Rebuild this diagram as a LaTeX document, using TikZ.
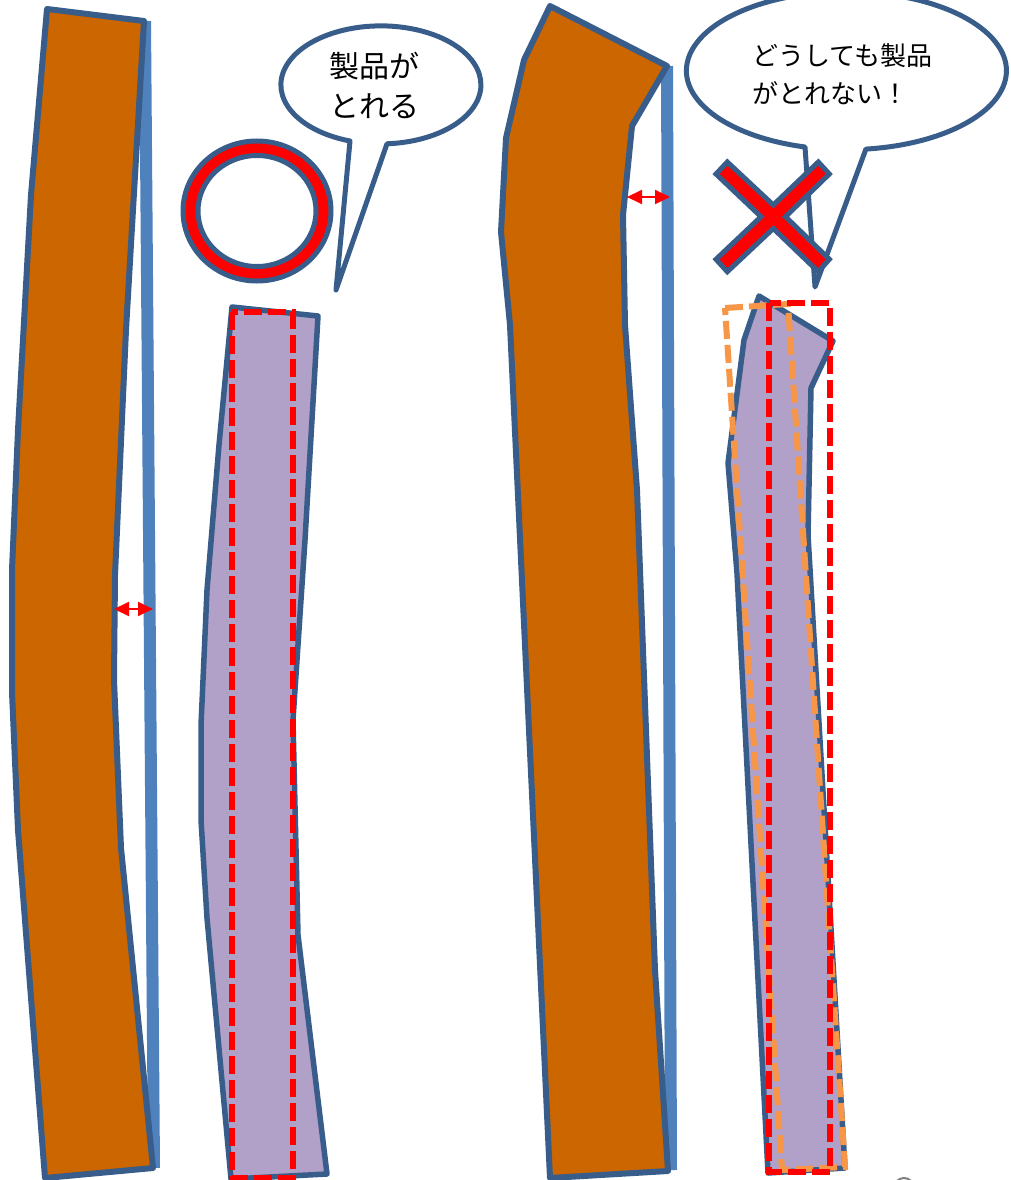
\documentclass[tikz,border=0pt]{standalone}
\usepackage{fontspec}
\usepackage{xcolor}
\usetikzlibrary{arrows.meta}
\newfontfamily\cjk{Noto Sans CJK JP}
\definecolor{edgeblue}{RGB}{56,93,138}
\definecolor{lineblue}{RGB}{79,129,189}
\definecolor{bodybrown}{RGB}{204,102,0}
\definecolor{partpurple}{RGB}{177,160,199}
\definecolor{cutorange}{RGB}{247,150,70}
\definecolor{markred}{RGB}{255,0,0}

\begin{document}
\begin{tikzpicture}[
    x=1pt, y=-1pt,
    body/.style={draw=edgeblue, fill=bodybrown, line width=6pt, line join=round},
    part/.style={draw=edgeblue, fill=partpurple, line width=5.5pt, line join=round},
    straight/.style={draw=lineblue, line width=12pt},
    cutred/.style={draw=markred, line width=6pt, dash pattern=on 18pt off 6pt},
    cutor/.style={draw=cutorange, line width=6pt, dash pattern=on 18pt off 6pt},
    redmark/.style={draw=edgeblue, fill=markred, line width=5pt, line join=miter},
    bubble/.style={draw=edgeblue, fill=white, line width=5pt, line join=round},
    gap/.style={{Triangle[length=15pt,width=14pt]}-{Triangle[length=15pt,width=14pt]}, draw=markred, fill=markred, line width=2pt},
    say/.style={align=left, inner sep=0pt, anchor=north west, text=black}
]
\useasboundingbox (0,0) rectangle (1010,1180);

% Left: straight line and bent bar
\draw[straight] (145,21) -- (154,1168);
\draw[body] (47,9) -- (144,21) -- (126,330) -- (115,575) -- (114,680) -- (121,848) -- (153,1168) -- (45,1178)
    -- (18,830) -- (12,692) -- (12,570) -- (18,430) -- (31,195) -- cycle;

% Left: gap
\coordinate (gapla) at (114,609);
\coordinate (gaplb) at (153,609);
\draw[gap] (gapla) -- (gaplb);

% Left: ring
\draw[redmark, even odd rule] (257,211) ellipse [x radius=74, y radius=70]
    (257,211) ellipse [x radius=59, y radius=55.5];

% Left: bubble
\draw[bubble] (350,141) arc[start angle=108, end angle=446.5, x radius=100, y radius=59] -- (336,290) -- cycle;
\node[say, font=\cjk\fontsize{30}{40}\selectfont] (sayok) at (329,52) {製品が\\とれる};

% Left: part
\draw[part] (232,307) -- (318,316) -- (305,540) -- (293,720) -- (298,935) -- (327,1174) -- (231,1179)
    -- (207,918) -- (201,820) -- (201,725) -- (207,590) -- (219,445) -- cycle;
\draw[cutred] (232,312) rectangle (293,1178);

% Right: straight line and bent bar
\draw[straight] (667,66) -- (671,1170);
\draw[body] (550,6) -- (667,66) -- (632,126) -- (623,215) -- (625,325) -- (637,490) -- (655,970) -- (668,1171)
    -- (550,1178) -- (510,325) -- (501,232) -- (506,138) -- (524,60) -- cycle;

% Right: gap
\coordinate (gapra) at (627,197);
\coordinate (gaprb) at (670,197);
\draw[gap] (gapra) -- (gaprb);

% Right: bubble
\draw[bubble] (805,147) arc[start angle=105, end angle=443, x radius=160, y radius=79] -- (815,287) -- cycle;
\node[say, font=\cjk\fontsize{26}{38}\selectfont] (sayng) at (752,43) {どうしても製品\\がとれない！};

% Right: cross
\draw[redmark] (727.3,162) -- (773.3,205) -- (818.3,162) -- (829.3,174) -- (785.5,216.7) -- (829.3,259.3) -- (818.3,271.7)
    -- (773.3,228.5) -- (727.3,271.7) -- (716,259.3) -- (761,216.7) -- (716,174) -- cycle;

% Right: part
\draw[part] (759,296) -- (833,341) -- (811,388) -- (808,535) -- (845,1168) -- (768,1173)
    -- (737,573) -- (728,463) -- (744,340) -- cycle;
\draw[cutor] (725,308) -- (788,304) -- (845,1167) -- (782,1170) -- cycle;
\draw[cutred] (769,303) rectangle (830,1172);

% Corner
\draw[gray, line width=2pt] (904,1188) circle (10);
\end{tikzpicture}
\end{document}
